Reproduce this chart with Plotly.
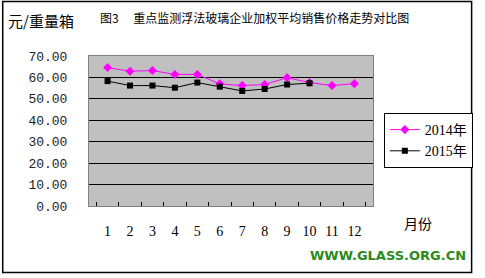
import plotly.graph_objects as go

months = [str(i) for i in range(1, 13)]
y2014 = [64.6, 62.9, 63.2, 61.4, 61.4, 57.0, 56.2, 56.7, 59.9, 57.6, 56.2, 57.1]
y2015 = [58.3, 56.2, 56.2, 55.2, 57.6, 55.7, 53.7, 54.6, 56.7, 57.3]
yticks = [0, 10, 20, 30, 40, 50, 60, 70]

W, H = 485, 278
L, R, T, B = 89, 377, 56, 206

def px(x):
    return (x - L) / (R - L)

def py(y):
    return (B - y) / (B - T)

serif = "Liberation Serif, Noto Sans CJK SC"
cjk = "Noto Sans CJK SC"

fig = go.Figure()
fig.add_trace(go.Scatter(
    x=months, y=y2014, name="2014年", mode="lines+markers",
    line=dict(color="#FF00FF", width=1),
    marker=dict(symbol="diamond", size=7, color="#FF00FF"),
))
fig.add_trace(go.Scatter(
    x=months[:len(y2015)], y=y2015, name="2015年", mode="lines+markers",
    line=dict(color="#000000", width=1),
    marker=dict(symbol="square", size=6, color="#000000"),
))

fig.update_layout(
    width=W, height=H,
    margin=dict(l=L, r=W - R, t=T, b=H - B),
    paper_bgcolor="white",
    plot_bgcolor="#C0C0C0",
    showlegend=True,
    legend=dict(
        x=px(388), y=py(113), xanchor="left", yanchor="top",
        bordercolor="black", borderwidth=1, bgcolor="white",
        font=dict(family=serif, size=14, color="black"),
        itemwidth=30, tracegroupgap=0,
    ),
    xaxis=dict(
        type="category", categoryorder="array", categoryarray=months,
        showgrid=False, showline=True, linecolor="#808080", mirror=True,
        ticks="inside", tickson="boundaries", ticklen=4, tickcolor="black",
        tickfont=dict(family=serif, size=14, color="black"),
        tickangle=0, ticklabelstandoff=12, zeroline=False,
    ),
    yaxis=dict(
        range=[0, 70], tickvals=yticks, tickformat=".2f",
        showgrid=True, gridcolor="black", gridwidth=1,
        showline=True, linecolor="#808080", mirror=True,
        ticks="", zeroline=False,
        tickfont=dict(family="Liberation Mono", size=13, color="#222222"),
        ticklabelstandoff=18,
    ),
    shapes=[dict(
        type="rect", xref="paper", yref="paper",
        x0=px(1.5), x1=px(477), y0=py(1.5), y1=py(272.5),
        line=dict(color="black", width=1.5), layer="below",
    )],
    annotations=[
        dict(text="元/重量箱", xref="paper", yref="paper", x=px(5), y=py(21),
             xanchor="left", yanchor="middle", showarrow=False,
             font=dict(family=cjk, size=15, color="black")),
        dict(text="图3　 重点监测浮法玻璃企业加权平均销售价格走势对比图",
             xref="paper", yref="paper", x=px(98), y=py(17),
             xanchor="left", yanchor="middle", showarrow=False,
             font=dict(family=cjk, size=12, color="black")),
        dict(text="月份", xref="paper", yref="paper", x=px(406), y=py(223),
             xanchor="left", yanchor="middle", showarrow=False,
             font=dict(family=cjk, size=14, color="black")),
        dict(text="<b>WWW.GLASS.ORG.CN</b>", xref="paper", yref="paper",
             x=px(473), y=py(255), xanchor="right", yanchor="middle",
             showarrow=False,
             font=dict(family="DejaVu Sans", size=13, color="#2A8A1A")),
    ],
)

fig.write_html("out.html")
